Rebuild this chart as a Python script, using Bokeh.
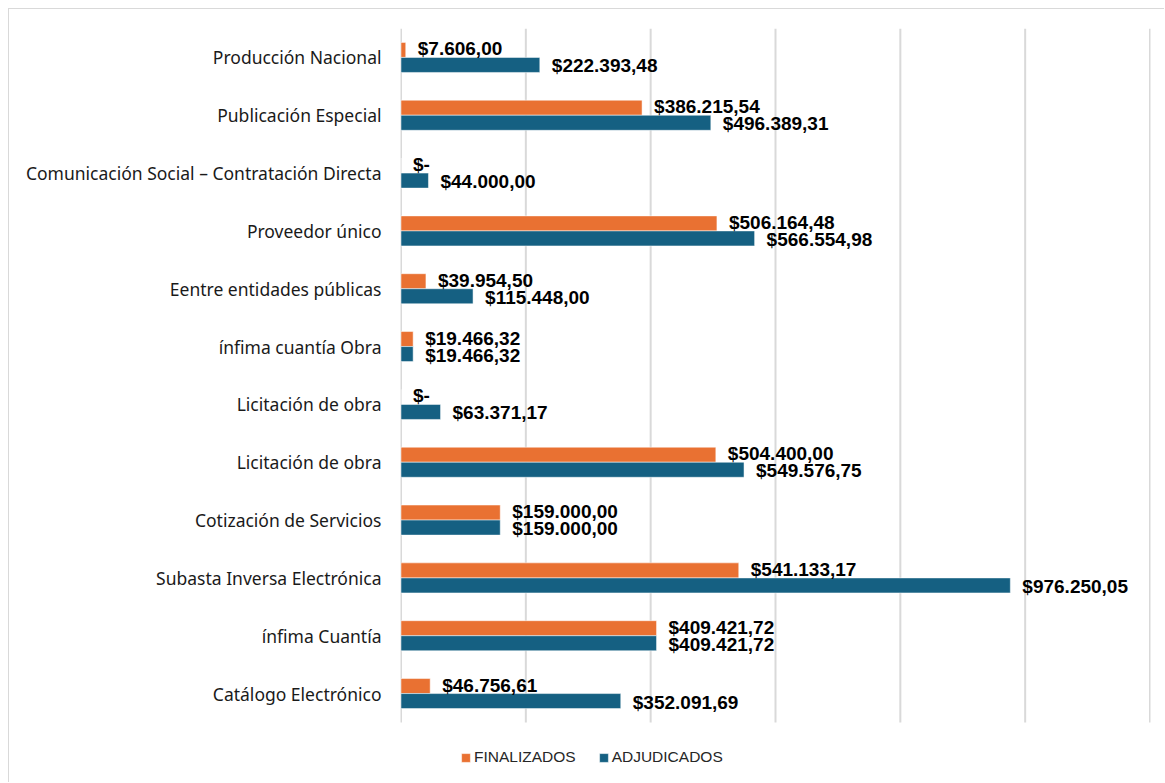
from bokeh.plotting import figure
from bokeh.models import FixedTicker, Range1d, ColumnDataSource, Legend, LegendItem
from bokeh.core.properties import value
from bokeh.embed import file_html
from bokeh.resources import INLINE

categories = [
    "Producción Nacional",
    "Publicación Especial",
    "Comunicación Social – Contratación Directa",
    "Proveedor único",
    "Eentre entidades públicas",
    "ínfima cuantía Obra",
    "Licitación de obra",
    "Licitación de obra",
    "Cotización de Servicios",
    "Subasta Inversa Electrónica",
    "ínfima Cuantía",
    "Catálogo Electrónico",
]
finalizados = [7606.00, 386215.54, 0.0, 506164.48, 39954.50, 19466.32, 0.0,
               504400.00, 159000.00, 541133.17, 409421.72, 46756.61]
adjudicados = [222393.48, 496389.31, 44000.00, 566554.98, 115448.00, 19466.32,
               63371.17, 549576.75, 159000.00, 976250.05, 409421.72, 352091.69]
grid_ticks = [0, 200000, 400000, 600000, 800000, 1000000, 1200000]

ORANGE = "#E97132"
BLUE = "#156082"


def fmt(v):
    if v == 0:
        return "$-"
    s = f"{v:,.2f}"
    s = s.replace(",", "X").replace(".", ",").replace("X", ".")
    return "$" + s


n = len(categories)
pos = [n - 1 - i for i in range(n)]
off = 0.13
legend_room = 1.055  # extra space (in category units) under the bars for the legend
src = ColumnDataSource(dict(
    y_fin=[p_ + off for p_ in pos],
    y_adj=[p_ - off for p_ in pos],
    fin=finalizados,
    adj=adjudicados,
    fin_lbl=[fmt(v) for v in finalizados],
    adj_lbl=[fmt(v) for v in adjudicados],
))

p = figure(width=1156, height=774, output_backend="svg", toolbar_location=None,
           x_range=Range1d(-800, 1200800),
           y_range=Range1d(-0.5 - legend_room, n - 0.5),
           x_axis_location=None, y_axis_location="left",
           min_border_left=391, min_border_right=15, min_border_top=19,
           min_border_bottom=0)
p.outline_line_color = None
p.background_fill_color = "white"
p.border_fill_color = "white"
p.styles = {"margin-left": "8px", "margin-top": "8px",
            "border-top": "1px solid #d9d9d9", "border-left": "1px solid #d9d9d9"}
p.grid.grid_line_color = None

# vertical gridlines spanning only the category area
p.segment(x0=grid_ticks, x1=grid_ticks, y0=-0.5, y1=n - 0.5,
          line_color="#d9d9d9", line_width=2)

r1 = p.hbar(y="y_fin", left=0, right="fin", height=0.26, source=src,
            fill_color=ORANGE, line_color="white", line_width=0.5)
r2 = p.hbar(y="y_adj", left=0, right="adj", height=0.26, source=src,
            fill_color=BLUE, line_color="white", line_width=0.5)

p.text(x="fin", y="y_fin", text="fin_lbl", source=src, x_offset=12, y_offset=-1,
       text_font=value("Liberation Sans"), text_font_style="bold",
       text_font_size="19px", text_baseline="middle", text_color="#000000")
p.text(x="adj", y="y_adj", text="adj_lbl", source=src, x_offset=12, y_offset=1,
       text_font=value("Liberation Sans"), text_font_style="bold",
       text_font_size="19px", text_baseline="middle", text_color="#000000")

ax = p.yaxis[0]
ax.ticker = FixedTicker(ticks=pos)
ax.major_label_overrides = {p_: c for p_, c in zip(pos, categories)}
ax.axis_line_color = None
ax.major_tick_line_color = None
ax.minor_tick_line_color = None
ax.major_tick_out = 0
ax.major_label_standoff = 19
ax.major_label_text_font = "Noto Sans"
ax.major_label_text_font_size = "17.5px"
ax.major_label_text_color = "#1a1a1a"

legend = Legend(items=[LegendItem(label="FINALIZADOS", renderers=[r1]),
                       LegendItem(label="ADJUDICADOS", renderers=[r2])],
                orientation="horizontal", location=(60, 17),
                border_line_color=None, background_fill_alpha=0,
                padding=0, margin=0, glyph_width=11, glyph_height=11,
                label_height=11, label_standoff=3, spacing=22,
                label_text_font="Liberation Sans", label_text_font_size="15.5px",
                label_text_color="#262626", label_text_baseline="middle")
p.add_layout(legend)

open("out.html", "w").write(file_html(p, INLINE))
